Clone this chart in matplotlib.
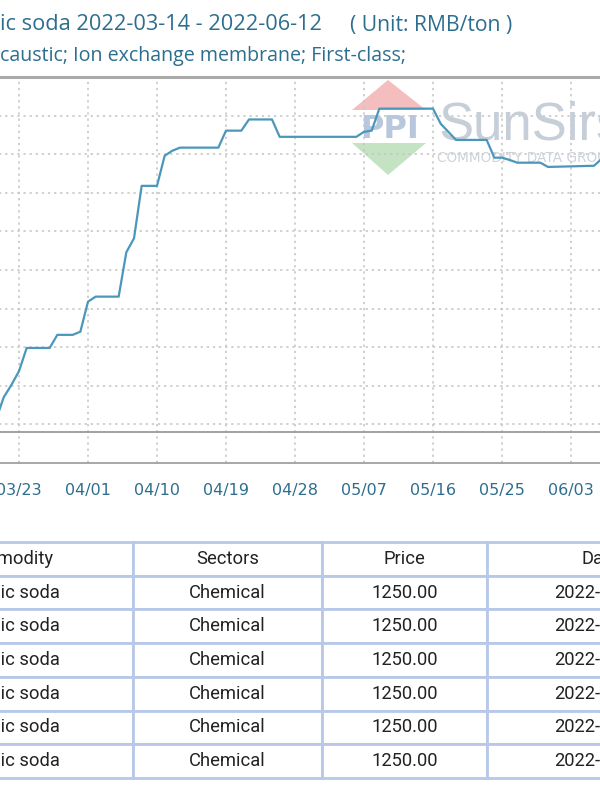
import matplotlib
matplotlib.use("Agg")
import matplotlib.pyplot as plt
import matplotlib.dates as mdates
from matplotlib.patches import Polygon
import pandas as pd

# ---------------- data ----------------
dates = ['2022-03-14', '2022-03-19', '2022-03-20', '2022-03-21', '2022-03-22', '2022-03-23',
         '2022-03-24', '2022-03-27', '2022-03-28', '2022-03-30', '2022-03-31', '2022-04-01',
         '2022-04-02', '2022-04-05', '2022-04-06', '2022-04-07', '2022-04-08', '2022-04-10',
         '2022-04-11', '2022-04-12', '2022-04-13', '2022-04-18', '2022-04-19', '2022-04-21',
         '2022-04-22', '2022-04-25', '2022-04-26', '2022-05-06', '2022-05-07', '2022-05-08',
         '2022-05-09', '2022-05-16', '2022-05-17', '2022-05-18', '2022-05-19', '2022-05-23',
         '2022-05-24', '2022-05-25', '2022-05-26', '2022-05-27', '2022-05-30', '2022-05-31',
         '2022-06-06', '2022-06-07', '2022-06-12']
prices = [600, 600, 612, 670, 702, 738, 798, 798, 832, 832, 840, 918, 931, 931, 1046, 1082,
          1218, 1218, 1296, 1309, 1317, 1317, 1361, 1361, 1390, 1390, 1345, 1345, 1358, 1361,
          1418, 1418, 1379, 1358, 1337, 1337, 1291, 1291, 1285, 1278, 1278, 1267, 1270, 1288, 1300]

tick_dates = ['2022-03-23', '2022-04-01', '2022-04-10', '2022-04-19', '2022-04-28',
              '2022-05-07', '2022-05-16', '2022-05-25', '2022-06-03']
y_grid = [600, 700, 800, 900, 1000, 1100, 1200, 1300, 1400]

title_line1 = "ic soda 2022-03-14 - 2022-06-12"
title_unit = "( Unit: RMB/ton )"
title_line2 = "caustic; Ion exchange membrane; First-class;"

col_labels = ["Commodity", "Sectors", "Price", "Date"]
row_commodity = ["Caustic soda"] * 6
row_sector = ["Chemical"] * 6
row_price = ["1250.00"] * 6
row_date = ["2022-06-12", "2022-06-11", "2022-06-10", "2022-06-09", "2022-06-08", "2022-06-07"]

# ---------------- figure ----------------
W, H = 600, 800
fig = plt.figure(figsize=(6, 8), dpi=100)
fig.patch.set_facecolor("white")


def fx(x):
    return x / W


def fy(y):
    return 1 - y / H


def P(x, y):
    return (fx(x), fy(y))


text_blue = "#2d6e8e"
line_color = "#4b97bb"
grid_color = "#c4c4c4"

# chart axes: extends beyond the figure (cropped screenshot)
x_left_px, x_right_px = -50, 640
y_top_px, y_bot_px = 77, 463
ax = fig.add_axes([fx(x_left_px), fy(y_bot_px), (x_right_px - x_left_px) / W,
                   (y_bot_px - y_top_px) / H])
d = pd.to_datetime(dates)
ax.plot(d, prices, color=line_color, lw=1.6, zorder=3, solid_joinstyle="round")
ax.set_xlim(pd.Timestamp('2022-03-14'), pd.Timestamp('2022-06-12'))
ax.set_ylim(500, 1500)

ticks = pd.to_datetime(tick_dates)
ax.set_xticks(ticks)
ax.xaxis.set_major_formatter(mdates.DateFormatter('%m/%d'))
ax.set_yticks(y_grid)
ax.tick_params(axis='x', length=0, pad=14.5, labelsize=11.5, labelcolor=text_blue)
ax.tick_params(axis='y', length=0, labelleft=False)
for lab in ax.get_xticklabels():
    lab.set_fontfamily("DejaVu Sans")
ax.grid(True, color=grid_color, lw=1.1, linestyle=(0, (1.5, 2.5)), zorder=1)
ax.axhline(580, color="#9a9a9a", lw=1.3, zorder=2)
for s in ["left", "right"]:
    ax.spines[s].set_visible(False)
ax.spines["top"].set_color("#aaaaaa")
ax.spines["top"].set_linewidth(2.2)
ax.spines["bottom"].set_color("#a0a0a0")
ax.spines["bottom"].set_linewidth(1.3)

# watermark logo
ax.add_patch(Polygon([P(352, 110), P(426, 110), P(388, 80)], closed=True,
                     transform=fig.transFigure, facecolor="#f3b3b3", edgecolor="none",
                     alpha=0.85, zorder=1.5))
ax.add_patch(Polygon([P(352, 143), P(426, 143), P(388, 175)], closed=True,
                     transform=fig.transFigure, facecolor="#b9deb9", edgecolor="none",
                     alpha=0.85, zorder=1.5))
ax.text(fx(390), fy(138), "PPI", transform=fig.transFigure, ha="center", va="baseline",
        fontsize=23, fontweight="bold", color="#b9c7dc", family="DejaVu Sans", zorder=1.6)
ax.text(fx(439), fy(140), "SunSirs", transform=fig.transFigure, ha="left", va="baseline",
        fontsize=38, color="#c6ced8", family="Liberation Sans", zorder=1.6)
ax.text(fx(437), fy(162), "COMMODITY DATA GROUP", transform=fig.transFigure, ha="left",
        va="baseline", fontsize=9.8, color="#cdd3da", family="DejaVu Sans", zorder=1.6)

# titles
fig.text(fx(0), fy(25), title_line1, ha="left", va="center", fontsize=15.7,
         color=text_blue, family="Open Sans")
fig.text(fx(350), fy(25), title_unit, ha="left", va="center", fontsize=15.2,
         color=text_blue, family="Open Sans")
fig.text(fx(0), fy(56), title_line2, ha="left", va="center", fontsize=14.1,
         color=text_blue, family="Open Sans")

# table
col_edges = [-121, 133, 322, 487, 713]
t_top, t_bot = 542, 778
tax = fig.add_axes([fx(col_edges[0]), fy(t_bot), (col_edges[-1] - col_edges[0]) / W,
                    (t_bot - t_top) / H])
tax.axis("off")
cell_text = [list(r) for r in zip(row_commodity, row_sector, row_price, row_date)]
widths = [(col_edges[i + 1] - col_edges[i]) for i in range(4)]
tot = sum(widths)
tbl = tax.table(cellText=cell_text, colLabels=col_labels,
                colWidths=[w / tot for w in widths], cellLoc="center", bbox=[0, 0, 1, 1])
tbl.auto_set_font_size(False)
tbl.set_fontsize(13.2)
for (r, c), cell in tbl.get_celld().items():
    cell.set_edgecolor("#b7c8e8")
    cell.set_linewidth(2)
    cell.get_text().set_fontfamily("Roboto")
    cell.get_text().set_color("#222222")

fig.savefig("out.png", dpi=100, facecolor="white")
